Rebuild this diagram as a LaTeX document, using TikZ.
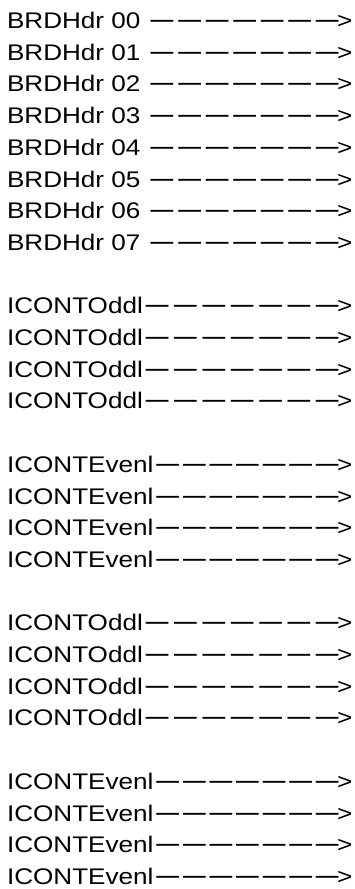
\documentclass[tikz,border=0pt]{standalone}
\usepackage{fontspec}
\setmainfont[FakeStretch=1.155]{Liberation Sans}
\newcommand{\dsh}{\resizebox{22.7pt}{1.25\height}{—}}
\newcommand{\arrowrow}[1]{\hbox to 345.4pt{#1\hspace{3pt}\dsh\hfill\dsh\hfill\dsh\hfill\dsh\hfill\dsh\hfill\dsh\hfill\dsh\kern-1.5pt>}}
\begin{document}
\begin{tikzpicture}[x=1pt,y=1pt,
  rowlabel/.style={anchor=base west,inner sep=0pt,outer sep=0pt,
    font=\fontsize{22.6}{27}\selectfont,text=black}]
\useasboundingbox (0,0) rectangle (355,889);
\foreach \i/\t in {0/BRDHdr 00 ,1/BRDHdr 01 ,2/BRDHdr 02 ,3/BRDHdr 03 ,
  4/BRDHdr 04 ,5/BRDHdr 05 ,6/BRDHdr 06 ,7/BRDHdr 07 ,
  9/ICONTOddl,10/ICONTOddl,11/ICONTOddl,12/ICONTOddl,
  14/ICONTEvenl,15/ICONTEvenl,16/ICONTEvenl,17/ICONTEvenl,
  19/ICONTOddl,20/ICONTOddl,21/ICONTOddl,22/ICONTOddl,
  24/ICONTEvenl,25/ICONTEvenl,26/ICONTEvenl,27/ICONTEvenl}
  \node[rowlabel] (l\i) at (7.0,{889-28.6-31.7*\i}) {\arrowrow{\t}};
\end{tikzpicture}
\end{document}
